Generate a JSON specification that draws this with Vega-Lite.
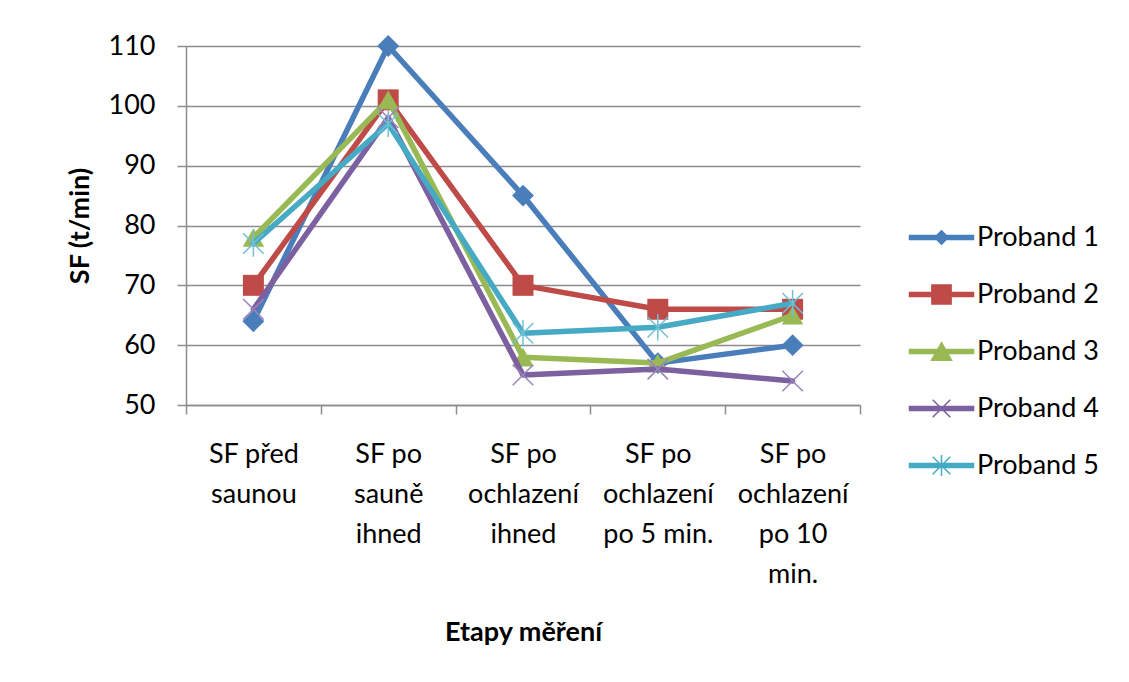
{
  "$schema": "https://vega.github.io/schema/vega-lite/v6.json",
  "autosize": {"type": "none"},
  "padding": {"left": 186, "top": 46, "right": 269, "bottom": 277},
  "width": 674,
  "height": 359,
  "background": "white",
  "config": {
    "view": {"stroke": null},
    "font": "Lato",
    "legend": {
      "orient": "none",
      "legendX": 742,
      "legendY": 178,
      "padding": 0,
      "labelFont": "Lato",
      "labelFontSize": 27,
      "labelColor": "#000",
      "labelOffset": 22,
      "rowPadding": 29,
      "symbolSize": 256,
      "symbolStrokeWidth": 1.5,
      "symbolOpacity": 1,
      "symbolFillColor": "#4A7EBB"
    }
  },
  "data": {
    "values": [
      {"etapa": "SF před saunou", "proband": "Proband 1", "sf": 64},
      {"etapa": "SF po sauně ihned", "proband": "Proband 1", "sf": 110},
      {"etapa": "SF po ochlazení ihned", "proband": "Proband 1", "sf": 85},
      {"etapa": "SF po ochlazení po 5 min.", "proband": "Proband 1", "sf": 57},
      {"etapa": "SF po ochlazení po 10 min.", "proband": "Proband 1", "sf": 60},
      {"etapa": "SF před saunou", "proband": "Proband 2", "sf": 70},
      {"etapa": "SF po sauně ihned", "proband": "Proband 2", "sf": 101},
      {"etapa": "SF po ochlazení ihned", "proband": "Proband 2", "sf": 70},
      {"etapa": "SF po ochlazení po 5 min.", "proband": "Proband 2", "sf": 66},
      {"etapa": "SF po ochlazení po 10 min.", "proband": "Proband 2", "sf": 66},
      {"etapa": "SF před saunou", "proband": "Proband 3", "sf": 78},
      {"etapa": "SF po sauně ihned", "proband": "Proband 3", "sf": 101},
      {"etapa": "SF po ochlazení ihned", "proband": "Proband 3", "sf": 58},
      {"etapa": "SF po ochlazení po 5 min.", "proband": "Proband 3", "sf": 57},
      {"etapa": "SF po ochlazení po 10 min.", "proband": "Proband 3", "sf": 65},
      {"etapa": "SF před saunou", "proband": "Proband 4", "sf": 66},
      {"etapa": "SF po sauně ihned", "proband": "Proband 4", "sf": 98},
      {"etapa": "SF po ochlazení ihned", "proband": "Proband 4", "sf": 55},
      {"etapa": "SF po ochlazení po 5 min.", "proband": "Proband 4", "sf": 56},
      {"etapa": "SF po ochlazení po 10 min.", "proband": "Proband 4", "sf": 54},
      {"etapa": "SF před saunou", "proband": "Proband 5", "sf": 77},
      {"etapa": "SF po sauně ihned", "proband": "Proband 5", "sf": 97},
      {"etapa": "SF po ochlazení ihned", "proband": "Proband 5", "sf": 62},
      {"etapa": "SF po ochlazení po 5 min.", "proband": "Proband 5", "sf": 63},
      {"etapa": "SF po ochlazení po 10 min.", "proband": "Proband 5", "sf": 67}
    ]
  },
  "encoding": {
    "x": {
      "field": "etapa",
      "type": "nominal",
      "sort": null,
      "scale": {"type": "band", "paddingInner": 0, "paddingOuter": 0},
      "axis": {
        "title": "Etapy měření",
        "titleFont": "Lato",
        "titleFontSize": 27,
        "titleFontWeight": "bold",
        "titleColor": "#000",
        "titlePadding": 32,
        "labelAngle": 0,
        "labelFont": "Lato",
        "labelFontSize": 27,
        "labelColor": "#000",
        "labelLineHeight": 40,
        "labelPadding": 27,
        "labelOverlap": false,
        "labelLimit": 300,
        "labelExpr": "datum.value == 'SF před saunou' ? ['SF před','saunou'] : datum.value == 'SF po sauně ihned' ? ['SF po','sauně','ihned'] : datum.value == 'SF po ochlazení ihned' ? ['SF po','ochlazení','ihned'] : datum.value == 'SF po ochlazení po 5 min.' ? ['SF po','ochlazení','po 5 min.'] : datum.value == 'SF po ochlazení po 10 min.' ? ['SF po','ochlazení','po 10','min.'] : ''",
        "tickBand": "extent",
        "tickSize": 9,
        "tickColor": "#8c8c8c",
        "tickWidth": 1.5,
        "domainColor": "#8c8c8c",
        "domainWidth": 1.5,
        "grid": false
      }
    },
    "y": {
      "field": "sf",
      "type": "quantitative",
      "scale": {"domain": [50, 110], "nice": false, "zero": false},
      "axis": {
        "title": "SF (t/min)",
        "titleFont": "Lato",
        "titleFontSize": 27,
        "titleFontWeight": "bold",
        "titleColor": "#000",
        "titlePadding": 14,
        "values": [50, 60, 70, 80, 90, 100, 110],
        "labelFont": "Lato",
        "labelFontSize": 27,
        "labelColor": "#000",
        "labelPadding": 22,
        "tickSize": 9,
        "tickColor": "#8c8c8c",
        "tickWidth": 1.5,
        "domainColor": "#8c8c8c",
        "domainWidth": 1.5,
        "grid": true,
        "gridColor": "#8c8c8c",
        "gridWidth": 1.5
      }
    }
  },
  "layer": [
    {
      "transform": [{"filter": "datum.proband == 'Proband 1'"}],
      "mark": {"type": "line", "strokeWidth": 5.5, "strokeJoin": "round", "strokeCap": "round", "color": "#4A7EBB"},
      "encoding": {}
    },
    {
      "transform": [{"filter": "datum.proband == 'Proband 1'"}],
      "mark": {"type": "point", "shape": "diamond", "filled": true, "size": 480, "color": "#4A7EBB", "opacity": 1}
    },
    {
      "transform": [{"filter": "datum.proband == 'Proband 2'"}],
      "mark": {"type": "line", "strokeWidth": 5.5, "strokeJoin": "round", "strokeCap": "round", "color": "#BE4B48"},
      "encoding": {}
    },
    {
      "transform": [{"filter": "datum.proband == 'Proband 2'"}],
      "mark": {"type": "point", "shape": "square", "filled": true, "size": 440, "color": "#BE4B48", "opacity": 1}
    },
    {
      "transform": [{"filter": "datum.proband == 'Proband 3'"}],
      "mark": {"type": "line", "strokeWidth": 5.5, "strokeJoin": "round", "strokeCap": "round", "color": "#98B954"},
      "encoding": {}
    },
    {
      "transform": [{"filter": "datum.proband == 'Proband 3'"}],
      "mark": {"type": "point", "shape": "triangle-up", "filled": true, "size": 460, "color": "#98B954", "opacity": 1}
    },
    {
      "transform": [{"filter": "datum.proband == 'Proband 4'"}],
      "mark": {"type": "line", "strokeWidth": 5.5, "strokeJoin": "round", "strokeCap": "round", "color": "#7D60A0"},
      "encoding": {}
    },
    {
      "transform": [{"filter": "datum.proband == 'Proband 4'"}],
      "mark": {"type": "point", "shape": "M-1,-1L1,1M-1,1L1,-1", "filled": false, "size": 420, "color": "#9A84BE", "strokeWidth": 1.5, "opacity": 1}
    },
    {
      "transform": [{"filter": "datum.proband == 'Proband 5'"}],
      "mark": {"type": "line", "strokeWidth": 5.5, "strokeJoin": "round", "strokeCap": "round", "color": "#46AAC5"},
      "encoding": {}
    },
    {
      "transform": [{"filter": "datum.proband == 'Proband 5'"}],
      "mark": {"type": "point", "shape": "M-1,-1L1,1M-1,1L1,-1M0,-1.3L0,1.3", "filled": false, "size": 420, "color": "#6FC0D6", "strokeWidth": 1.5, "opacity": 1}
    },
    {
      "transform": [{"filter": "false"}],
      "mark": {"type": "point", "filled": true, "strokeWidth": 1.5},
      "encoding": {
        "color": {
          "field": "proband",
          "type": "nominal",
          "scale": {
            "domain": ["Proband 1", "Proband 2", "Proband 3", "Proband 4", "Proband 5"],
            "range": ["#4A7EBB", "#BE4B48", "#98B954", "#7D60A0", "#46AAC5"]
          },
          "legend": {"title": null}
        },
        "stroke": {
          "field": "proband",
          "type": "nominal",
          "scale": {
            "domain": ["Proband 1", "Proband 2", "Proband 3", "Proband 4", "Proband 5"],
            "range": ["#4A7EBB", "#BE4B48", "#98B954", "#7D60A0", "#46AAC5"]
          },
          "legend": {"title": null}
        },
        "shape": {
          "field": "proband",
          "type": "nominal",
          "scale": {
            "domain": ["Proband 1", "Proband 2", "Proband 3", "Proband 4", "Proband 5"],
            "range": [
              "M-4,-0.24L4,-0.24L4,0.24L-4,0.24ZM0,-0.85L0.85,0L0,0.85L-0.85,0Z",
              "M-4,-0.24L4,-0.24L4,0.24L-4,0.24ZM-1.2,-1.2L1.2,-1.2L1.2,1.2L-1.2,1.2Z",
              "M-4,-0.24L4,-0.24L4,0.24L-4,0.24ZM0,-1.1L1.25,1.1L-1.25,1.1Z",
              "M-4,-0.24L4,-0.24L4,0.24L-4,0.24ZM-1.1,-1.1L1.1,1.1M-1.1,1.1L1.1,-1.1",
              "M-4,-0.24L4,-0.24L4,0.24L-4,0.24ZM-1.1,-1.1L1.1,1.1M-1.1,1.1L1.1,-1.1M0,-1.3L0,1.3"
            ]
          },
          "legend": {"title": null}
        }
      }
    }
  ]
}
